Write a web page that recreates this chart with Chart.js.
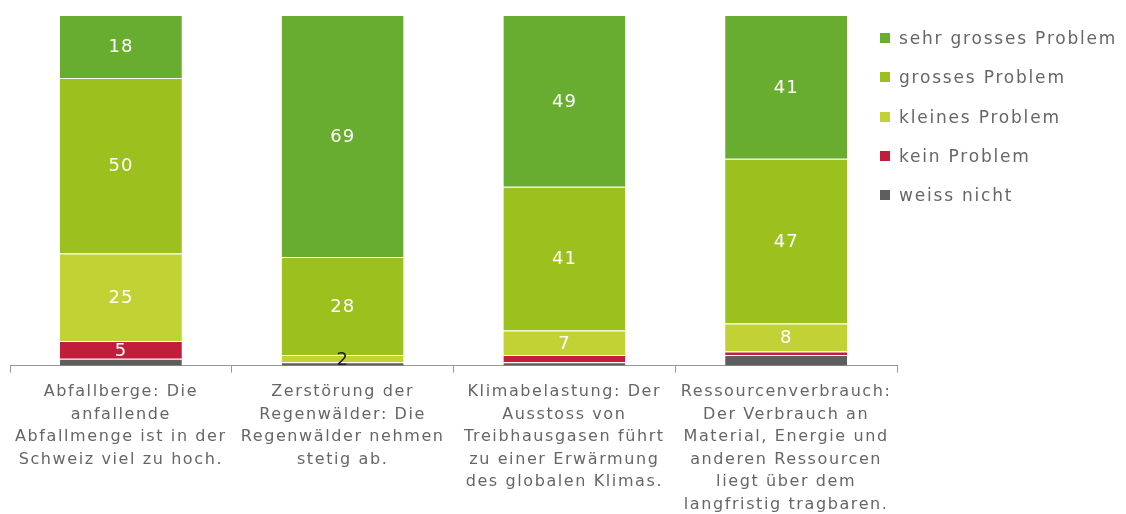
<!DOCTYPE html>
<html>
<head>
<meta charset="utf-8">
<script src="https://cdn.jsdelivr.net/npm/chart.js@4/dist/chart.umd.min.js"></script>
<style>
  html, body { margin: 0; padding: 0; background: #fff; overflow: hidden; }
  #wrap { position: relative; width: 1126px; height: 514px; overflow: hidden; }
  #legend { position: absolute; left: 880px; top: 28px; font-family: "DejaVu Sans", sans-serif; font-size: 17px; letter-spacing: 1.8px; color: #666; }
  #legend div { height: 39.3px; line-height: 20px; white-space: nowrap; }
  #legend span { display: inline-block; width: 10px; height: 10px; margin-right: 9px; vertical-align: 1px; }
</style>
</head>
<body>
<div id="wrap">
  <canvas id="chart" width="1126" height="524"></canvas>
  <div id="legend"></div>
</div>
<script>
// categories (multi-line labels)
const categories = [
    ['Abfallberge: Die', 'anfallende', 'Abfallmenge ist in der', 'Schweiz viel zu hoch.'],
    ['Zerstörung der', 'Regenwälder: Die', 'Regenwälder nehmen', 'stetig ab.'],
    ['Klimabelastung: Der', 'Ausstoss von', 'Treibhausgasen führt', 'zu einer Erwärmung', 'des globalen Klimas.'],
    ['Ressourcenverbrauch:', 'Der Verbrauch an', 'Material, Energie und', 'anderen Ressourcen', 'liegt über dem', 'langfristig tragbaren.']
];

// values in percent, bottom to top
const weissNicht = [2, 1, 1, 3];
const keinProblem = [5, 0, 2, 1];
const kleinesProblem = [25, 2, 7, 8];
const grossesProblem = [50, 28, 41, 47];
const sehrGrossesProblem = [18, 69, 49, 41];

const seriesNames = ['weiss nicht', 'kein Problem', 'kleines Problem', 'grosses Problem', 'sehr grosses Problem'];
const seriesColors = ['#5e5e5e', '#c21d3b', '#c2d235', '#9cc11f', '#68ad2f'];
const seriesValues = [weissNicht, keinProblem, kleinesProblem, grossesProblem, sehrGrossesProblem];

const datasets = seriesValues.map((vals, i) => ({
    label: seriesNames[i],
    data: vals,
    backgroundColor: seriesColors[i],
    borderColor: '#ffffff',
    borderWidth: { top: 1, left: 0, right: 0, bottom: 0 },
    borderSkipped: false,
    barPercentage: 0.55,
    categoryPercentage: 1
}));

// wider letter spacing for all canvas text
const spacing = {
    id: 'spacing',
    beforeUpdate(chart) { chart.ctx.letterSpacing = '1.6px'; },
    beforeDraw(chart) { chart.ctx.letterSpacing = '1.6px'; }
};

// values inside the bars
const barLabels = {
    id: 'barLabels',
    afterDatasetsDraw(chart) {
        const ctx = chart.ctx;
        ctx.save();
        ctx.letterSpacing = '1px';
        ctx.font = '18px "DejaVu Sans", sans-serif';
        ctx.textAlign = 'center';
        ctx.textBaseline = 'middle';
        chart.data.datasets.forEach((ds, i) => {
            if (i === 0) return;
            chart.getDatasetMeta(i).data.forEach((bar, j) => {
                const v = ds.data[j];
                const small = v < 4;
                if (small && i !== 2) return;
                ctx.fillStyle = small ? '#222' : '#fff';
                const y = (bar.y + bar.base) / 2;
                ctx.fillText(String(v), bar.x, small ? y + 2 : y + 1);
            });
        });
        ctx.restore();
    }
};

new Chart(document.getElementById('chart'), {
    type: 'bar',
    data: { labels: categories, datasets: datasets },
    options: {
        responsive: false,
        animation: false,
        layout: { padding: { left: 10, right: 229, top: 15, bottom: 0 } },
        plugins: { legend: { display: false }, tooltip: { enabled: false } },
        scales: {
            x: {
                stacked: true,
                grid: { display: true, drawOnChartArea: false, offset: true, tickLength: 7, color: '#999' },
                border: { color: '#999' },
                ticks: {
                    color: '#666',
                    padding: 8,
                    maxRotation: 0,
                    minRotation: 0,
                    autoSkip: false,
                    font: { family: '"DejaVu Sans", sans-serif', size: 16, lineHeight: 1.41 }
                }
            },
            y: { stacked: true, display: false, min: 0, max: 100 }
        }
    },
    plugins: [spacing, barLabels]
});

// legend, top to bottom
const legend = document.getElementById('legend');
for (let i = seriesNames.length - 1; i >= 0; i--) {
    const row = document.createElement('div');
    const box = document.createElement('span');
    box.style.background = seriesColors[i];
    row.appendChild(box);
    row.appendChild(document.createTextNode(seriesNames[i]));
    legend.appendChild(row);
}
</script>
</body>
</html>
